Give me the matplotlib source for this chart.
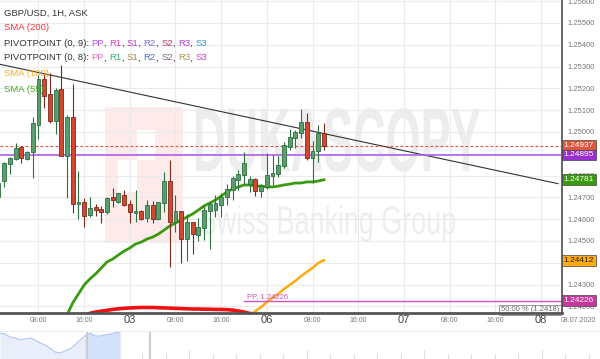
import numpy as np
import matplotlib
matplotlib.use("Agg")
import matplotlib.pyplot as plt
from matplotlib.textpath import TextPath
from matplotlib.patches import PathPatch, Rectangle
from matplotlib.font_manager import FontProperties
from matplotlib.transforms import Affine2D, IdentityTransform

plt.rcParams['font.family'] = ['Liberation Sans', 'DejaVu Sans']

# hourly GBP/USD candles, 02.07 02:00 -> 06.07 10:00
opens = [1.24702, 1.24775, 1.24853, 1.24876, 1.24931, 1.24876, 1.24908, 1.25032, 1.25243, 1.25174,
         1.25050, 1.25197, 1.24890, 1.25069, 1.24670, 1.24679, 1.24619, 1.24656, 1.24647, 1.24633,
         1.24702, 1.24679, 1.24711, 1.24670, 1.24628, 1.24638, 1.24606, 1.24665, 1.24601, 1.24674,
         1.24775, 1.24587, 1.24638, 1.24509, 1.24587, 1.24528, 1.24560, 1.24638, 1.24642, 1.24665,
         1.24702, 1.24734, 1.24780, 1.24803, 1.24761, 1.24784, 1.24729, 1.24748, 1.24798, 1.24807,
         1.24844, 1.24931, 1.24972, 1.24995, 1.25046, 1.24881, 1.24913, 1.24995]
closes = [1.24766, 1.24858, 1.24881, 1.24927, 1.24881, 1.24908, 1.25041, 1.25243, 1.25165, 1.25050,
          1.25193, 1.24890, 1.25069, 1.24670, 1.24679, 1.24615, 1.24651, 1.24642, 1.24633, 1.24697,
          1.24688, 1.24720, 1.24665, 1.24633, 1.24638, 1.24601, 1.24665, 1.24601, 1.24679, 1.24775,
          1.24587, 1.24638, 1.24509, 1.24587, 1.24532, 1.24564, 1.24642, 1.24670, 1.24674, 1.24702,
          1.24739, 1.24789, 1.24807, 1.24858, 1.24784, 1.24729, 1.24752, 1.24803, 1.24812, 1.24849,
          1.24940, 1.24977, 1.25000, 1.25046, 1.24881, 1.24913, 1.24995, 1.24937]
highs = [1.24775, 1.24862, 1.24885, 1.24950, 1.24936, 1.24913, 1.25069, 1.25261, 1.25271, 1.25271,
         1.25202, 1.25307, 1.25078, 1.25220, 1.24821, 1.24697, 1.24702, 1.24670, 1.24661, 1.24702,
         1.24743, 1.24720, 1.24734, 1.24688, 1.24734, 1.24642, 1.24688, 1.24683, 1.24679, 1.24817,
         1.24872, 1.24711, 1.24638, 1.24624, 1.24587, 1.24606, 1.24661, 1.24679, 1.24711, 1.24720,
         1.24761, 1.24798, 1.24826, 1.24908, 1.24798, 1.24789, 1.24761, 1.24904, 1.24894, 1.24890,
         1.24954, 1.25014, 1.25009, 1.25106, 1.25087, 1.24959, 1.25032, 1.25041]
lows = [1.24693, 1.24748, 1.24807, 1.24872, 1.24858, 1.24872, 1.24789, 1.24968, 1.25110, 1.25041,
        1.24991, 1.24890, 1.24697, 1.24628, 1.24601, 1.24564, 1.24610, 1.24615, 1.24583, 1.24624,
        1.24656, 1.24674, 1.24661, 1.24583, 1.24587, 1.24596, 1.24587, 1.24583, 1.24596, 1.24633,
        1.24381, 1.24541, 1.24399, 1.24408, 1.24440, 1.24500, 1.24505, 1.24463, 1.24610, 1.24610,
        1.24665, 1.24688, 1.24734, 1.24761, 1.24725, 1.24706, 1.24702, 1.24739, 1.24757, 1.24794,
        1.24835, 1.24917, 1.24927, 1.24972, 1.24872, 1.24766, 1.24862, 1.24917]

# moving averages (start index, values)
sma55_start = 12
sma55 = [1.24161, 1.24216, 1.24257, 1.24298, 1.24326, 1.24349, 1.24376, 1.24404, 1.24417, 1.24436,
         1.24454, 1.24468, 1.24486, 1.24495, 1.24509, 1.24518, 1.24532, 1.24550, 1.24569, 1.24583,
         1.24596, 1.24610, 1.24624, 1.24642, 1.24661, 1.24674, 1.24688, 1.24706, 1.24725, 1.24739,
         1.24748, 1.24757, 1.24757, 1.24752, 1.24752, 1.24748, 1.24748, 1.24752, 1.24757, 1.24761,
         1.24766, 1.24766, 1.24771, 1.24771, 1.24775, 1.24781]
sma100_start = 44
sma100 = [1.24156, 1.24179, 1.24197, 1.24220, 1.24239, 1.24257, 1.24280, 1.24298, 1.24317, 1.24339,
          1.24358, 1.24376, 1.24399, 1.24412]
sma200_start = 15
sma200 = [1.24160, 1.24168, 1.24174, 1.24178, 1.24182, 1.24186, 1.24189, 1.24191, 1.24193, 1.24194,
          1.24195, 1.24195, 1.24195, 1.24194, 1.24193, 1.24192, 1.24191, 1.24190, 1.24189, 1.24188,
          1.24188, 1.24187, 1.24187, 1.24186, 1.24186, 1.24185, 1.24183, 1.24179, 1.24174, 1.24168,
          1.24162, 1.24156]

trend_x = [0, 98]
trend_y = [1.25312, 1.24763]
last_price = 1.24937
pivot_line = 1.24895
pivot_pp = 1.24226
pivot_start = 43
fib_50 = 1.2418

tick_pos = [7, 15, 23, 31, 39, 47, 55, 63, 71, 79, 87, 95]
tick_labels = ['08:00', '16:00', '03', '08:00', '16:00', '06', '08:00', '16:00', '07', '08:00', '16:00', '08']
price_ticks = [1.242, 1.243, 1.244, 1.245, 1.246, 1.247, 1.248, 1.249, 1.250, 1.251, 1.252, 1.253, 1.254, 1.255, 1.256]
# these sit fully under the coloured price boxes
hidden_ticks = [1.244, 1.249]

# navigator overview line
nav_level = [26, 25, 22, 21, 19, 20, 21, 19, 16, 14, 11, 7, 6, 8, 10, 14, 19, 23, 26, 23, 23, 24, 25, 26, 27]

W, H = 600, 359
fig = plt.figure(figsize=(W / 100, H / 100), dpi=100)
ax = fig.add_axes([0, 46 / H, 562 / W, 313 / H])
ax.set_xlim(0.26, 98.7)
ax.set_ylim(1.241697, 1.256055)

# grid
for p in price_ticks:
    ax.axhline(p, color='#ebebeb', lw=0.8, zorder=0.5)
for t in tick_pos:
    ax.axvline(t, color='#ebebeb', lw=0.8, zorder=0.5)

# watermark
def stretched(s, x0, y0, x1, y1, color, weight):
    tp = TextPath((0, 0), s, size=100, prop=FontProperties(family='Liberation Sans', weight=weight))
    bb = tp.get_extents()
    tr = Affine2D().translate(-bb.x0, -bb.y0).scale((x1 - x0) / bb.width, (y1 - y0) / bb.height).translate(x0, H - y1)
    ax.add_patch(PathPatch(tp, transform=tr, fc=color, ec='none', zorder=0.3))

def px_rect(x0, y0, x1, y1, color):
    ax.add_patch(Rectangle((x0, H - y1), x1 - x0, y1 - y0, transform=IdentityTransform(),
                           fc=color, ec='none', zorder=0.3))

px_rect(105, 107, 183, 243, '#fdeaea')
px_rect(137, 130, 155, 160, 'white')
px_rect(118, 160, 137, 192, 'white')
stretched('DUKASCOPY', 196, 108, 480, 172, '#ededed', 'bold')
stretched('Swiss Banking Group', 200, 205, 455, 242, '#eeeeee', 'normal')

# indicators
idx = np.arange(len(opens))
ax.plot(np.arange(sma200_start, sma200_start + len(sma200)), sma200, color='#ee1111', lw=2.6, zorder=2)
ax.plot(np.arange(sma55_start, sma55_start + len(sma55)), sma55, color='#3a9a10', lw=2.0, zorder=2)
ax.plot(np.arange(sma100_start, sma100_start + len(sma100)), sma100, color='#ffaa11', lw=1.8, zorder=2)
ax.plot(trend_x, trend_y, color='#333333', lw=0.8, zorder=2)
ax.axhline(last_price, color='#e05040', lw=0.8, ls=(0, (2.5, 2)), zorder=2)
ax.axhline(pivot_line, color='#b45ee6', lw=1.2, zorder=2)
ax.plot([pivot_start, 98.7], [pivot_pp, pivot_pp], color='#cc55bb', lw=1.0, zorder=2)
ax.text(pivot_start + 0.6, pivot_pp + 0.00003, 'PP, 1.24226', color='#cc55bb', fontsize=5.5, va='bottom', zorder=2)
ax.text(98.2, fib_50 + 0.00005, '50.00 % (1.2418)', color='#666666', fontsize=5.5, ha='right', va='center', zorder=2,
        bbox=dict(boxstyle='square,pad=0.2', fc='white', ec='#888888', lw=0.6))

# candles
o = np.array(opens); c = np.array(closes)
up = c >= o
body_lo = np.minimum(o, c)
body_h = np.maximum(np.abs(c - o), 0.000012)
ax.vlines(idx[up], np.array(lows)[up], np.array(highs)[up], color='#2f6e3f', lw=0.8, zorder=3)
ax.vlines(idx[~up], np.array(lows)[~up], np.array(highs)[~up], color='#7a2a1c', lw=0.8, zorder=3)
ax.bar(idx[up], body_h[up], bottom=body_lo[up], width=0.68, color='#5b9e6e', edgecolor='#2f6e3f', lw=0.6, zorder=4)
ax.bar(idx[~up], body_h[~up], bottom=body_lo[~up], width=0.68, color='#d2472f', edgecolor='#7a2a1c', lw=0.6, zorder=4)

# axes styling
for s in ['top', 'left']:
    ax.spines[s].set_visible(False)
ax.spines['right'].set_color('#666666')
ax.spines['right'].set_linewidth(1.4)
ax.spines['bottom'].set_color('#555555')
ax.spines['bottom'].set_linewidth(2)
ax.yaxis.tick_right()
ax.set_yticks(price_ticks)
ax.set_yticklabels(['' if p in hidden_ticks else '%.5f' % p for p in price_ticks])
ax.tick_params(axis='y', length=0, pad=4, labelsize=5.5, labelcolor='#777777')
ax.set_xticks([])
for t, lab in zip(tick_pos, tick_labels):
    day = ':' not in lab
    ax.text(t, -7 / 313, lab, transform=ax.get_xaxis_transform(), ha='center', va='center',
            fontsize=8 if day else 5, color='#444444' if day else '#777777', clip_on=False)
fig.text(578 / W, 1 - 320 / H, '08.07.2020', fontsize=5, color='#777777', ha='center', va='center')

# price labels on the right axis
def price_box(p, fc, tc='white'):
    ax.text(1.003, p, '%.5f' % p, transform=ax.get_yaxis_transform(), fontsize=6, color=tc, ha='left', va='center',
            clip_on=False, zorder=6, bbox=dict(boxstyle='square,pad=0.22', fc=fc, ec='#444444', lw=0.5))

price_box(last_price, '#e0553d')
price_box(pivot_line, '#9c2fd4')
price_box(sma55[-1], '#3a9a10')
price_box(sma100[-1], '#ffaa11', '#222222')
price_box(pivot_pp, '#c8379c')

# legend text
def line_parts(y, parts):
    t = fig.text(4 / W, 1 - y / H, parts[0][0], color=parts[0][1], fontsize=6.8, va='center', ha='left')
    for s, col in parts[1:]:
        t = ax.annotate(s, xy=(1, 0), xycoords=t, color=col, fontsize=6.8, va='bottom', ha='left')

line_parts(13, [('GBP/USD, 1H, ASK', '#333333')])
line_parts(28, [('SMA (200)', '#ff3333')])
line_parts(43, [('PIVOTPOINT (0, 9): ', '#333333'), ('PP', '#b44dff'), (', ', '#333333'), ('R1', '#e03cc8'),
                (', ', '#333333'), ('S1', '#b040d0'), (', ', '#333333'), ('R2', '#7a6cf0'), (', ', '#333333'),
                ('S2', '#d03070'), (', ', '#333333'), ('R3', '#b040e0'), (', ', '#333333'), ('S3', '#3399cc')])
line_parts(58, [('PIVOTPOINT (0, 8): ', '#333333'), ('PP', '#e070c0'), (', ', '#333333'), ('R1', '#30b070'),
                (', ', '#333333'), ('S1', '#a08850'), (', ', '#333333'), ('R2', '#5070d0'), (', ', '#333333'),
                ('S2', '#806080'), (', ', '#333333'), ('R3', '#b09060'), (', ', '#333333'), ('S3', '#d040d0')])
line_parts(74, [('SMA (100)', '#ffaa11')])
line_parts(89, [('SMA (55)', '#44aa22')])

# navigator strip
fig.add_artist(plt.Line2D([0, 1], [1 - 331 / H, 1 - 331 / H], color='#eeeeee', lw=0.8))
nav = fig.add_axes([0, 0, 1, 28 / H])
nav.set_xlim(0, 120)
nav.set_ylim(0, 28)
nav.axis('off')
nx = np.arange(len(nav_level))
nav.fill_between(nx, 0, nav_level, color='#e8effb', lw=0)
sel = nx >= 17
nav.fill_between(nx[sel], 0, np.array(nav_level)[sel], color='#d3e2fa', lw=0)
nav.plot(nx, nav_level, color='#aac6f2', lw=0.8)
nav.axvline(17.4, color='#cccccc', lw=1.5)
nav.axvline(30, color='#cccccc', lw=1.5)
for k, xt in enumerate(np.arange(28.4, 120, 4.7)):
    nav.plot([xt, xt], [0, 9 if k % 5 == 2 else 5], color='#e0e0e0', lw=0.8)

fig.savefig('out.png', dpi=100)
